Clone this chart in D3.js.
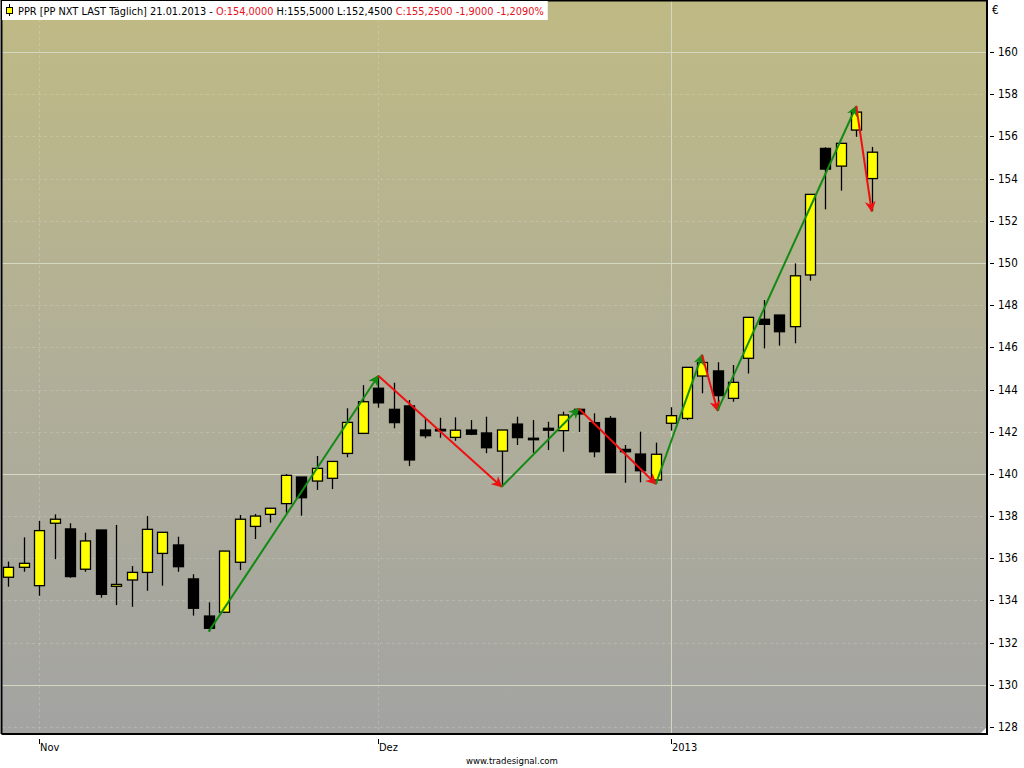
<!DOCTYPE html>
<html>
<head>
<meta charset="utf-8">
<script src="https://cdn.jsdelivr.net/npm/d3@7"></script>
<style>
  html, body { margin: 0; padding: 0; background: #ffffff; }
  svg { display: block; }
  text { font-family: "DejaVu Sans", "Liberation Sans", sans-serif; font-stretch: condensed; }
</style>
</head>
<body>
<svg id="chart" width="1024" height="768"></svg>
<script>
// trading days shown (PPR, Euronext)
var dates = [
    "2012-10-30", "2012-10-31",
    "2012-11-01", "2012-11-02", "2012-11-05", "2012-11-06", "2012-11-07", "2012-11-08", "2012-11-09",
    "2012-11-12", "2012-11-13", "2012-11-14", "2012-11-15", "2012-11-16", "2012-11-19", "2012-11-20",
    "2012-11-21", "2012-11-22", "2012-11-23", "2012-11-26", "2012-11-27", "2012-11-28", "2012-11-29",
    "2012-11-30",
    "2012-12-03", "2012-12-04", "2012-12-05", "2012-12-06", "2012-12-07", "2012-12-10", "2012-12-11",
    "2012-12-12", "2012-12-13", "2012-12-14", "2012-12-17", "2012-12-18", "2012-12-19", "2012-12-20",
    "2012-12-21", "2012-12-24", "2012-12-27", "2012-12-28", "2012-12-31",
    "2013-01-02", "2013-01-03", "2013-01-04", "2013-01-07", "2013-01-08", "2013-01-09", "2013-01-10",
    "2013-01-11", "2013-01-14", "2013-01-15", "2013-01-16", "2013-01-17", "2013-01-18", "2013-01-21"
];

var open = [
    135.10, 135.57, 134.70, 137.66, 137.39, 135.48, 137.34, 134.67, 134.97, 135.33,
    136.23, 136.63, 135.02, 133.26, 133.44, 135.81, 137.51, 138.08, 138.59, 139.85,
    139.66, 139.79, 140.97, 141.92, 144.06, 143.06, 143.22, 142.08, 142.11, 141.73,
    142.08, 141.94, 141.08, 142.36, 141.69, 142.16, 142.05, 143.06, 142.43, 142.63,
    141.16, 140.94, 139.71, 142.40, 142.63, 144.64, 144.88, 143.58, 145.48, 147.33,
    147.53, 146.98, 149.43, 155.43, 154.59, 156.30, 154.00
];
var high = [
    135.84, 136.99, 137.77, 138.08, 137.66, 137.21, 137.34, 137.58, 135.63, 138.00,
    137.23, 137.02, 135.24, 133.91, 136.34, 138.05, 138.10, 138.37, 139.99, 139.85,
    140.85, 140.59, 143.11, 144.21, 144.65, 144.32, 143.50, 142.63, 142.66, 142.68,
    142.55, 142.71, 142.08, 142.71, 142.55, 142.47, 142.95, 143.10, 142.87, 142.74,
    141.37, 142.00, 141.48, 143.16, 145.05, 145.64, 145.29, 145.16, 147.42, 148.24,
    147.53, 149.98, 153.25, 155.48, 155.67, 157.43, 155.50
];
var low = [
    134.65, 135.36, 134.22, 135.96, 135.08, 135.36, 134.13, 133.78, 133.70, 134.46,
    134.70, 135.36, 133.28, 132.52, 133.40, 135.44, 136.91, 137.69, 138.16, 138.02,
    139.24, 139.28, 140.79, 141.89, 143.14, 142.16, 140.37, 141.69, 141.71, 141.57,
    141.84, 140.98, 139.39, 141.37, 141.00, 141.13, 141.05, 141.99, 140.79, 140.06,
    139.58, 139.60, 139.52, 142.05, 142.55, 143.82, 143.00, 143.42, 144.76, 145.95,
    146.08, 146.19, 149.16, 152.54, 153.43, 155.98, 152.45
];
var close = [
    135.57, 135.76, 137.31, 137.85, 135.13, 136.82, 134.29, 134.76, 135.33, 137.37,
    137.23, 135.60, 133.63, 132.68, 136.34, 137.85, 138.00, 138.37, 139.93, 138.87,
    140.26, 140.59, 142.44, 143.42, 143.37, 142.43, 140.66, 141.81, 142.05, 142.07,
    141.88, 141.24, 142.08, 141.72, 141.62, 142.07, 142.79, 142.84, 141.05, 140.06,
    141.05, 140.15, 140.93, 142.76, 145.05, 145.28, 143.71, 144.34, 147.42, 147.09,
    146.74, 149.39, 153.25, 154.45, 155.67, 157.15, 155.25
];

// zigzag swing points: index into the bars and which extreme
var swingIndex = [13, 24, 32, 37, 42, 45, 46, 55, 56];
var swingType  = ["L", "H", "L", "H", "L", "H", "L", "H", "L"];

var priceTicks = [128, 130, 132, 134, 136, 138, 140, 142, 144, 146, 148, 150, 152, 154, 156, 158, 160];
var majorTicks = [130, 140, 150, 160];
var monthDates = ["2012-11-01", "2012-12-03", "2013-01-02"];
var monthLabels = ["Nov", "Dez", "2013"];
var yearDates = ["2013-01-02"];

var headerParts = [
    {t: "PPR [PP NXT LAST Täglich] 21.01.2013 - ", c: "#000000"},
    {t: "O:154,0000", c: "#e8101c"},
    {t: " H:155,5000 L:152,4500 ", c: "#000000"},
    {t: "C:155,2500 -1,9000 -1,2090%", c: "#e8101c"}
];

(function () {
    'use strict';
    const plot = {left: 2, top: 1, right: 987, bottom: 734};
    const svg = d3.select("#chart");

    const x = d3.scalePoint()
        .domain(dates)
        .range([8.3, 871.7]);
    const y = d3.scaleLinear()
        .domain([128, 160])
        .range([727, 52]);

    // background gradient
    const defs = svg.append("defs");
    const grad = defs.append("linearGradient")
        .attr("id", "bg").attr("x1", 0).attr("y1", 0).attr("x2", 0).attr("y2", 1);
    grad.append("stop").attr("offset", "0%").attr("stop-color", "#bfba84");
    grad.append("stop").attr("offset", "50%").attr("stop-color", "#b1af98");
    grad.append("stop").attr("offset", "100%").attr("stop-color", "#a3a3a2");

    [["arrowGreen", "#138a13"], ["arrowRed", "#ee1010"]].forEach(function (m) {
        defs.append("marker")
            .attr("id", m[0])
            .attr("viewBox", "0 0 10 10")
            .attr("refX", 9).attr("refY", 5)
            .attr("markerWidth", 5.5).attr("markerHeight", 5.5)
            .attr("markerUnits", "strokeWidth")
            .attr("orient", "auto")
            .append("path")
            .attr("d", "M0,0 L10,5 L0,10 L3,5 Z")
            .attr("fill", m[1]);
    });

    svg.append("rect")
        .attr("x", plot.left).attr("y", plot.top)
        .attr("width", plot.right - plot.left).attr("height", plot.bottom - plot.top)
        .attr("fill", "url(#bg)");

    // grid
    const grid = svg.append("g");
    grid.selectAll(".hgrid")
        .data(priceTicks)
        .enter().append("line")
        .attr("x1", plot.left).attr("x2", plot.right)
        .attr("y1", d => Math.round(y(d)) + 0.5).attr("y2", d => Math.round(y(d)) + 0.5)
        .attr("stroke", d => majorTicks.indexOf(d) >= 0 ? "#d4d8c2" : "#ffffff")
        .attr("stroke-opacity", d => majorTicks.indexOf(d) >= 0 ? 1 : 0.18)
        .attr("stroke-dasharray", d => majorTicks.indexOf(d) >= 0 ? null : "3,3");
    grid.selectAll(".vgrid")
        .data(monthDates)
        .enter().append("line")
        .attr("x1", d => Math.round(x(d)) + 0.5).attr("x2", d => Math.round(x(d)) + 0.5)
        .attr("y1", plot.top).attr("y2", plot.bottom)
        .attr("stroke", d => yearDates.indexOf(d) >= 0 ? "#d4d8c2" : "#ffffff")
        .attr("stroke-opacity", d => yearDates.indexOf(d) >= 0 ? 1 : 0.18)
        .attr("stroke-dasharray", d => yearDates.indexOf(d) >= 0 ? null : "3,3");

    // candles
    const bars = dates.map(function (d, i) {
        return {date: d, o: open[i], h: high[i], l: low[i], c: close[i]};
    });
    const bodyW = 10;
    const candle = svg.append("g").selectAll("g")
        .data(bars)
        .enter().append("g");
    candle.append("line")
        .attr("x1", d => Math.round(x(d.date)) + 0.5).attr("x2", d => Math.round(x(d.date)) + 0.5)
        .attr("y1", d => y(d.h)).attr("y2", d => y(d.l))
        .attr("stroke", "#000").attr("stroke-width", 1.3);
    candle.append("rect")
        .attr("x", d => Math.round(x(d.date)) - bodyW / 2 + 0.5)
        .attr("y", d => y(Math.max(d.o, d.c)))
        .attr("width", bodyW)
        .attr("height", d => Math.max(1.5, Math.abs(y(d.o) - y(d.c))))
        .attr("fill", d => d.c >= d.o ? "#ffff00" : "#000000")
        .attr("stroke", "#000").attr("stroke-width", 1.3);

    // zigzag arrows
    const pts = swingIndex.map(function (i, k) {
        return {x: x(dates[i]), y: y(swingType[k] === "H" ? high[i] : low[i])};
    });
    const arrows = svg.append("g");
    for (let k = 1; k < pts.length; k++) {
        const up = pts[k].y < pts[k - 1].y;
        arrows.append("line")
            .attr("x1", pts[k - 1].x).attr("y1", pts[k - 1].y)
            .attr("x2", pts[k].x).attr("y2", pts[k].y)
            .attr("stroke", up ? "#138a13" : "#ee1010")
            .attr("stroke-width", 2)
            .attr("marker-end", up ? "url(#arrowGreen)" : "url(#arrowRed)");
    }

    // frame
    svg.append("path")
        .attr("d", "M" + (plot.left - 0.5) + "," + plot.bottom + "V" + (plot.top - 0.5) + "H" + plot.right + "V" + plot.bottom + "H" + (plot.left - 0.5))
        .attr("fill", "none").attr("stroke", "#000").attr("stroke-width", 2);
    svg.append("path")
        .attr("d", "M" + (plot.right - 6) + "," + (plot.bottom - 1) + "L" + (plot.right - 1) + "," + (plot.bottom - 6) + "L" + (plot.right - 1) + "," + (plot.bottom - 1) + "Z")
        .attr("fill", "#ffffff");

    // right price axis
    const yAxis = svg.append("g");
    yAxis.selectAll("line")
        .data(priceTicks)
        .enter().append("line")
        .attr("x1", 990).attr("x2", 994)
        .attr("y1", d => Math.round(y(d)) + 0.5).attr("y2", d => Math.round(y(d)) + 0.5)
        .attr("stroke", "#000");
    yAxis.selectAll("text")
        .data(priceTicks)
        .enter().append("text")
        .attr("x", 998).attr("y", d => y(d) + 4)
        .attr("font-size", "11.5px").attr("fill", "#000")
        .text(d => d);
    svg.append("text")
        .attr("x", 992).attr("y", 14)
        .attr("font-size", "11.5px")
        .text("€");

    // bottom time axis
    const xAxis = svg.append("g");
    xAxis.selectAll("line")
        .data(monthDates)
        .enter().append("line")
        .attr("x1", d => Math.round(x(d)) + 0.5).attr("x2", d => Math.round(x(d)) + 0.5)
        .attr("y1", 739).attr("y2", 744)
        .attr("stroke", "#000");
    xAxis.selectAll("text")
        .data(monthDates)
        .enter().append("text")
        .attr("x", d => Math.round(x(d)) + 1).attr("y", 751)
        .attr("font-size", "11px")
        .text((d, i) => monthLabels[i]);
    svg.append("text")
        .attr("x", 512).attr("y", 764)
        .attr("text-anchor", "middle")
        .attr("font-size", "9.5px")
        .text("www.tradesignal.com");

    // header legend
    const header = svg.append("g");
    const headerBg = header.append("rect")
        .attr("x", 2).attr("y", 1).attr("height", 19)
        .attr("fill", "#ffffff");
    header.append("line")
        .attr("x1", 9.5).attr("x2", 9.5).attr("y1", 4).attr("y2", 16)
        .attr("stroke", "#000");
    header.append("rect")
        .attr("x", 6.5).attr("y", 7.5).attr("width", 6).attr("height", 6)
        .attr("fill", "#ffff00").attr("stroke", "#000");
    const headerText = header.append("text")
        .attr("x", 18).attr("y", 15)
        .attr("font-size", "10.9px");
    headerText.selectAll("tspan")
        .data(headerParts)
        .enter().append("tspan")
        .attr("fill", d => d.c)
        .text(d => d.t);
    const w = headerText.node().getComputedTextLength();
    headerBg.attr("width", 18 + w + 2);
})();
</script>
</body>
</html>
